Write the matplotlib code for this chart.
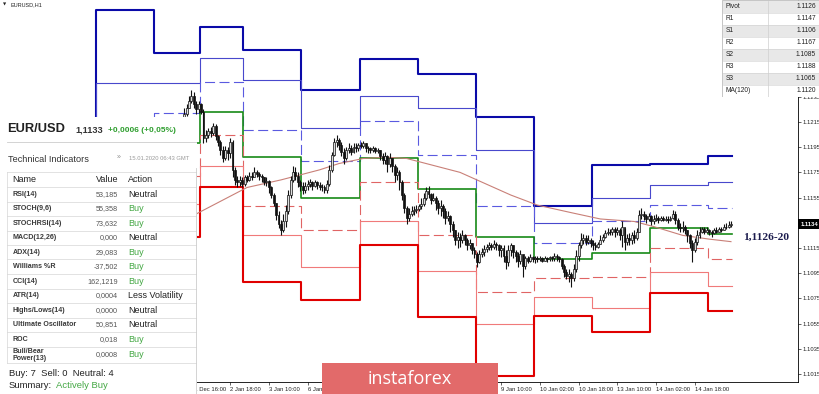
import numpy as np
import matplotlib.pyplot as plt
import matplotlib.transforms as mtransforms

plt.rcParams['font.family'] = ['Liberation Sans', 'DejaVu Sans']

# EURUSD H1 candles, bar index from the first pivot day, prices in pips above 1.1000
first_bar = 36
first_open = 216
close_pips = [221, 226, 232, 236, 229, 225, 229, 223, 202, 205,
              208, 206, 212, 204, 199, 193, 186, 193, 190, 199,
              177, 169, 167, 169, 166, 171, 169, 172, 171, 175,
              174, 172, 171, 167, 168, 163, 157, 151, 141, 134,
              129, 136, 144, 157, 169, 175, 172, 167, 164, 161,
              164, 166, 167, 164, 167, 165, 163, 163, 161, 166,
              177, 189, 199, 201, 197, 191, 186, 193, 194, 191,
              195, 194, 197, 196, 198, 194, 194, 193, 194, 192,
              193, 188, 185, 188, 182, 186, 180, 173, 175, 167,
              157, 147, 139, 142, 144, 145, 146, 148, 150, 155,
              160, 158, 153, 155, 151, 147, 148, 144, 139, 140,
              134, 129, 121, 124, 121, 125, 121, 117, 119, 113,
              110, 104, 110, 112, 114, 116, 117, 116, 118, 117,
              113, 115, 109, 104, 113, 117, 112, 109, 105, 110,
              101, 107, 105, 108, 106, 107, 106, 107, 105, 107,
              106, 108, 107, 109, 108, 106, 101, 96, 93, 94,
              91, 98, 109, 117, 121, 123, 120, 121, 119, 117,
              116, 118, 121, 124, 127, 128, 128, 130, 128, 129,
              125, 132, 120, 123, 121, 125, 123, 128, 141, 142,
              140, 138, 140, 136, 138, 139, 137, 139, 137, 138,
              137, 139, 142, 137, 132, 131, 132, 129, 125, 119,
              113, 120, 125, 128, 130, 128, 129, 128, 127, 129,
              128, 130, 129, 132, 132, 133, 134]
high_pips = [226, 229, 236, 240, 239, 232, 232, 230, 225, 209,
             210, 211, 214, 213, 205, 201, 196, 196, 195, 202,
             201, 179, 172, 172, 171, 173, 173, 175, 175, 179,
             177, 175, 174, 171, 171, 169, 164, 159, 151, 144,
             137, 142, 149, 161, 172, 180, 179, 175, 169, 167,
             167, 169, 170, 168, 169, 168, 167, 166, 165, 169,
             181, 191, 202, 205, 202, 199, 194, 195, 198, 197,
             198, 198, 198, 199, 200, 198, 196, 195, 196, 195,
             194, 193, 190, 191, 189, 190, 186, 182, 179, 177,
             169, 159, 148, 147, 148, 148, 149, 150, 155, 159,
             163, 164, 159, 159, 156, 153, 153, 150, 147, 144,
             141, 136, 129, 128, 127, 129, 126, 123, 122, 119,
             116, 112, 113, 115, 117, 118, 120, 119, 121, 120,
             118, 117, 117, 113, 117, 119, 117, 113, 112, 113,
             109, 109, 109, 110, 109, 109, 109, 109, 108, 109,
             108, 109, 109, 111, 110, 109, 107, 102, 98, 98,
             96, 102, 113, 120, 127, 126, 125, 125, 123, 121,
             120, 120, 125, 126, 129, 131, 130, 132, 132, 132,
             131, 136, 131, 126, 127, 128, 129, 131, 145, 147,
             144, 142, 143, 141, 141, 142, 140, 140, 140, 140,
             140, 140, 145, 144, 139, 135, 136, 133, 129, 126,
             121, 123, 129, 132, 132, 132, 132, 130, 129, 131,
             132, 132, 132, 134, 135, 136, 136]
low_pips = [218, 220, 226, 230, 226, 221, 222, 221, 198, 199,
            202, 203, 205, 201, 196, 189, 183, 185, 185, 186,
            171, 165, 163, 164, 163, 164, 167, 168, 169, 171,
            171, 169, 167, 165, 164, 159, 155, 148, 137, 131,
            125, 128, 132, 142, 155, 167, 169, 163, 160, 158,
            159, 161, 163, 161, 163, 162, 161, 160, 159, 159,
            164, 175, 188, 195, 193, 188, 182, 185, 190, 189,
            190, 191, 192, 194, 194, 191, 190, 190, 191, 190,
            190, 185, 182, 182, 175, 179, 175, 167, 169, 161,
            153, 143, 134, 136, 140, 141, 143, 144, 146, 148,
            153, 155, 150, 152, 145, 142, 140, 139, 134, 136,
            128, 124, 117, 115, 116, 119, 117, 113, 114, 110,
            107, 100, 103, 108, 109, 112, 113, 113, 114, 113,
            109, 108, 104, 98, 101, 109, 107, 104, 100, 102,
            92, 98, 103, 104, 104, 103, 104, 105, 104, 105,
            104, 105, 105, 105, 105, 104, 98, 92, 90, 88,
            84, 89, 96, 105, 115, 118, 117, 118, 116, 113,
            113, 115, 118, 120, 123, 125, 125, 125, 124, 125,
            121, 116, 113, 117, 117, 118, 119, 121, 128, 138,
            137, 135, 136, 133, 134, 136, 135, 136, 136, 136,
            135, 136, 138, 134, 129, 128, 128, 126, 120, 115,
            104, 112, 117, 123, 127, 126, 127, 125, 124, 126,
            127, 128, 128, 129, 130, 131, 132]

# daily pivot levels (first entry is the day before, hidden by the panel)
day_start = [-1, 0, 24, 43, 61, 85, 109, 133, 157, 181, 205, 229, 253]
last_bar = 262
r3 = [1.1150, 1.1304, 1.1270, 1.1290, 1.1272, 1.1240, 1.1265, 1.1253, 1.1219, 1.1148, 1.1181, 1.1182, 1.1188]
r2 = [1.1150, 1.1246, 1.1246, 1.1266, 1.1248, 1.1210, 1.1236, 1.1226, 1.1193, 1.1135, 1.1155, 1.1165, 1.1167]
r1 = [1.1140, 1.1208, 1.1222, 1.1247, 1.1209, 1.1184, 1.1216, 1.1189, 1.1148, 1.1119, 1.1136, 1.1149, 1.1147]
pv = [1.1130, 1.1150, 1.1198, 1.1223, 1.1187, 1.1155, 1.1186, 1.1162, 1.1124, 1.1106, 1.1111, 1.1131, 1.1126]
s1 = [1.1120, 1.1100, 1.1172, 1.1205, 1.1148, 1.1129, 1.1167, 1.1125, 1.1080, 1.1091, 1.1092, 1.1115, 1.1106]
s2 = [1.1110, 1.1054, 1.1150, 1.1180, 1.1125, 1.1100, 1.1136, 1.1097, 1.1055, 1.1076, 1.1067, 1.1096, 1.1085]
s3 = [1.1100, 1.1000, 1.1124, 1.1163, 1.1088, 1.1074, 1.1117, 1.1060, 1.1013, 1.1061, 1.1048, 1.1079, 1.1065]

ma_bar = [30, 42, 62, 76, 92, 100, 110, 120, 128, 138, 150, 157, 171, 182, 196, 208, 222, 230, 242, 253, 262]
ma_val = [1.1130, 1.1143, 1.1163, 1.1169, 1.1177, 1.1182, 1.1186, 1.1187, 1.1186, 1.1181, 1.1175,
          1.1169, 1.1157, 1.1149, 1.1143, 1.1138, 1.1136, 1.1132, 1.1125, 1.1122, 1.1120]

tick_bars = [39, 55, 71, 87, 103, 119, 135, 151, 167, 183, 199, 215, 231, 247]
tick_text = ['31 Dec 16:00', '2 Jan 18:00', '3 Jan 10:00', '6 Jan 02:00', '6 Jan 18:00', '7 Jan 10:00',
             '8 Jan 02:00', '8 Jan 18:00', '9 Jan 10:00', '10 Jan 02:00', '10 Jan 18:00',
             '13 Jan 10:00', '14 Jan 02:00', '14 Jan 18:00']
price_ticks = [1.1015, 1.1035, 1.1055, 1.1075, 1.1095, 1.1115, 1.1135, 1.1155, 1.1175, 1.1195, 1.1215, 1.1235]
last_price = 1.1134

pivot_names = ['Pivot', 'R1', 'S1', 'R2', 'S2', 'R3', 'S3', 'MA(120)']
pivot_vals = ['1.1126', '1.1147', '1.1106', '1.1167', '1.1085', '1.1188', '1.1065', '1.1120']

ind_names = ['RSI(14)', 'STOCH(9,6)', 'STOCHRSI(14)', 'MACD(12,26)', 'ADX(14)', 'Williams %R',
             'CCI(14)', 'ATR(14)', 'Highs/Lows(14)', 'Ultimate Oscillator', 'ROC', 'Bull/Bear\nPower(13)']
ind_values = ['53,185', '55,358', '73,632', '0,000', '29,083', '-37,502', '162,1219', '0,0004',
              '0,0000', '50,851', '0,018', '0,0008']
ind_actions = ['Neutral', 'Buy', 'Buy', 'Neutral', 'Buy', 'Buy', 'Buy', 'Less Volatility',
               'Neutral', 'Neutral', 'Buy', 'Buy']

W, H = 820, 394
fig = plt.figure(figsize=(W / 100, H / 100), dpi=100)


def box(x0, y0, x1, y1):
    return [x0 / W, 1 - y1 / H, (x1 - x0) / W, (y1 - y0) / H]


ax = fig.add_axes(box(0, 0, 798, 382))
ax.set_xlim(-40.1, 289.7)
ax.set_ylim(1.10086, 1.13118)

# candles
closes = 1.1 + np.array(close_pips) / 1e4
highs = 1.1 + np.array(high_pips) / 1e4
lows = 1.1 + np.array(low_pips) / 1e4
opens = np.concatenate([[1.1 + first_open / 1e4], closes[:-1]])
bars = np.arange(first_bar, first_bar + len(closes))
ax.vlines(bars, lows, highs, color='#111111', lw=0.8, zorder=4)
up = closes >= opens
ax.bar(bars[up], (closes - opens)[up], bottom=opens[up], width=0.8,
       color='#dddddd', edgecolor='#111111', lw=0.5, zorder=5)
ax.bar(bars[~up], (closes - opens)[~up], bottom=opens[~up], width=0.8,
       color='#111111', edgecolor='#111111', lw=0.5, zorder=5)

# pivot levels as daily steps
edges = [d - 0.5 for d in day_start] + [last_bar + 0.5]
levels = [
    (r3, '#0a0aa8', 1.5, '-'),
    (r2, '#4848cc', 0.8, '-'),
    (r1, '#5a5ae0', 0.8, (0, (9, 4))),
    (pv, '#168a16', 1.2, '-'),
    (s1, '#e06464', 0.8, (0, (9, 4))),
    (s2, '#f07a7a', 0.8, '-'),
    (s3, '#e00000', 1.5, '-'),
]
for vals, col, lw, ls in levels:
    ax.step(edges, list(vals) + [vals[-1]], where='post', color=col, lw=lw, ls=ls, zorder=3)

ax.plot(ma_bar, ma_val, color='#c98078', lw=0.8, zorder=3)

# axes styling
for s in ['top', 'left']:
    ax.spines[s].set_visible(False)
for s in ['right', 'bottom']:
    ax.spines[s].set_linewidth(0.6)
ax.yaxis.tick_right()
ax.set_yticks(price_ticks)
# the 1.1135 label sits under the current price tag
ax.set_yticklabels(['' if abs(v - last_price) < 0.0003 else '%.4f' % v for v in price_ticks])
ax.set_xticks(tick_bars)
ax.set_xticklabels(tick_text)
for lab in ax.get_xticklabels():
    lab.set_ha('left')
ax.tick_params(axis='both', labelsize=4.2, length=2, width=0.5, pad=1.5, colors='#222222')

# current price tag
tr = mtransforms.blended_transform_factory(ax.transAxes, ax.transData)
ax.text(1.003, last_price, '%.4f' % last_price, transform=tr, fontsize=4.2, color='white', va='center',
        ha='left', fontweight='bold', clip_on=False, zorder=10,
        bbox=dict(boxstyle='square,pad=0.35', fc='black', ec='none'))

fig.text(743 / W, 1 - 237 / H, '1,1126-20', fontfamily='Liberation Serif', fontweight='bold',
         fontsize=8.2, color='#1b1b4d', va='center')
fig.text(11 / W, 1 - 5 / H, 'EURUSD,H1', fontsize=4, color='#222222', va='center')
fig.text(3 / W, 1 - 5 / H, '▼', fontsize=3, color='#222222', va='center', family='DejaVu Sans')

# pivot table (top right)
pt = fig.add_axes(box(722, 0, 820, 97))
pt.set_zorder(6)
pt.set_xlim(722, 820)
pt.set_ylim(97, 0)
pt.axis('off')
pt.add_patch(plt.Rectangle((722, 0), 98, 97, fc='white', ec='#bbbbbb', lw=0.6))
for i, (n, v) in enumerate(zip(pivot_names, pivot_vals)):
    y0 = 1 + i * 12
    if i % 2 == 0:
        pt.add_patch(plt.Rectangle((723, y0), 96, 12, fc='#e8e8e8', ec='none'))
    pt.plot([723, 819], [y0 + 12, y0 + 12], color='#d0d0d0', lw=0.4)
    pt.text(726, y0 + 6, n, fontsize=4.8, color='#222222', va='center')
    pt.text(816, y0 + 6, v, fontsize=4.8, color='#222222', va='center', ha='right')
pt.plot([768, 768], [1, 97], color='#cfcfcf', lw=0.5)

# technical indicators panel (left)
pn = fig.add_axes(box(0, 117, 197, 394))
pn.set_zorder(6)
pn.set_xlim(0, 197)
pn.set_ylim(394, 117)
pn.axis('off')
pn.add_patch(plt.Rectangle((0, 117), 197, 277, fc='white', ec='none'))
pn.text(7, 129, 'EUR/USD', fontsize=9.3, fontweight='bold', color='#222222', va='center')
pn.text(75, 130, '1,1133', fontsize=6.6, fontweight='bold', color='#333333', va='center')
pn.text(108, 130, '+0,0006 (+0,05%)', fontsize=6, fontweight='bold', color='#2e9e2e', va='center')
pn.plot([7, 197], [142, 142], color='#cccccc', lw=0.6)
pn.text(8, 160, 'Technical Indicators', fontsize=6.6, color='#333333', va='center')
pn.text(117, 158, '»', fontsize=5, color='#888888', va='center')
pn.text(129, 158, '15.01.2020 06:43 GMT', fontsize=4.2, color='#9a9a9a', va='center')

row_lines = [172, 187, 201.7, 216, 230.7, 245, 259.3, 274, 288.7, 303, 317.7, 332, 346.7, 363]
for yl in row_lines:
    pn.plot([7, 197], [yl, yl], color='#d6d6d6', lw=0.5)
pn.plot([7, 7], [172, 363], color='#d6d6d6', lw=0.5)
pn.plot([196.5, 196.5], [168, 394], color='#cccccc', lw=0.6)
pn.text(12, 180, 'Name', fontsize=6.5, color='#222222', va='center')
pn.text(96, 180, 'Value', fontsize=6.5, color='#222222', va='center')
pn.text(128, 180, 'Action', fontsize=6.5, color='#222222', va='center')
for i, (n, v, a) in enumerate(zip(ind_names, ind_values, ind_actions)):
    yc = (row_lines[i + 1] + row_lines[i + 2]) / 2
    pn.text(13, yc, n, fontsize=5.1, fontweight='bold', color='#3a3a3a', va='center', linespacing=0.95)
    pn.text(118, yc, v, fontsize=5.2, color='#555555', va='center', ha='right')
    pn.text(128, yc, a, fontsize=6.5, va='center',
            color='#45a845' if a == 'Buy' else '#222222')
pn.text(9, 373, 'Buy: 7  Sell: 0  Neutral: 4', fontsize=6.8, color='#222222', va='center')
pn.text(9, 385, 'Summary:', fontsize=6.8, color='#222222', va='center')
pn.text(56, 385, 'Actively Buy', fontsize=6.8, color='#45a845', va='center')

# instaforex banner
bn = fig.add_axes(box(322, 363, 498, 394))
bn.set_zorder(7)
bn.set_facecolor('#e26a6a')
bn.set_xticks([])
bn.set_yticks([])
for s in bn.spines.values():
    s.set_visible(False)
bn.text(0.5, 0.5, 'instaforex', transform=bn.transAxes, ha='center', va='center',
        fontsize=13, color='white', family=['Open Sans', 'DejaVu Sans'])

fig.savefig('out.png', dpi=100)
